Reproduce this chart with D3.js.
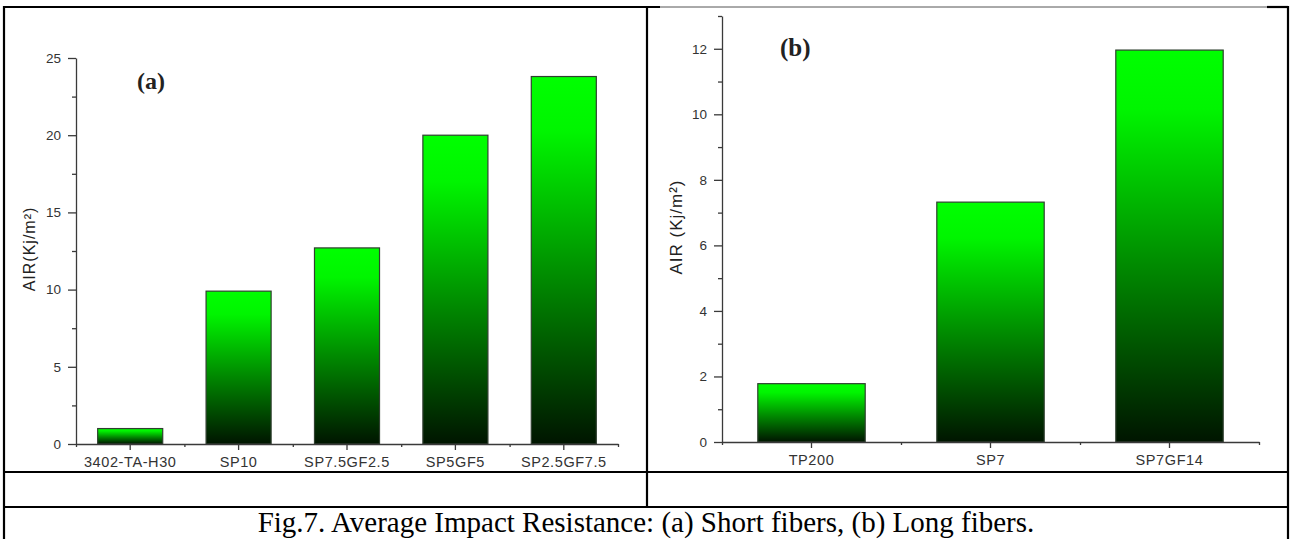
<!DOCTYPE html>
<html>
<head>
<meta charset="utf-8">
<script src="https://cdn.jsdelivr.net/npm/d3@7"></script>
<style>
  body { margin: 0; background: #fff; }
  svg { display: block; }
</style>
</head>
<body>
<div id="chart"></div>
<script>
// data (a) short fibers
var catsA = ['3402-TA-H30', 'SP10', 'SP7.5GF2.5', 'SP5GF5', 'SP2.5GF7.5'];
var valsA = [1.0, 9.9, 12.7, 20.0, 23.8];
var ticksA = [0, 5, 10, 15, 20, 25];
var minorA = [2.5, 7.5, 12.5, 17.5, 22.5];

// data (b) long fibers
var catsB = ['TP200', 'SP7', 'SP7GF14'];
var valsB = [1.78, 7.32, 11.96];
var ticksB = [0, 2, 4, 6, 8, 10, 12];
var minorB = [1, 3, 5, 7, 9, 11, 13];

var caption = 'Fig.7. Average Impact Resistance: (a) Short fibers, (b) Long fibers.';

var width = 1290;
var height = 539;

var svg = d3.select('#chart').append('svg')
    .attr('width', width)
    .attr('height', height);

// bar gradient, green on top fading to black
var grad = svg.append('defs').append('linearGradient')
    .attr('id', 'greenGrad')
    .attr('x1', 0).attr('y1', 0)
    .attr('x2', 0).attr('y2', 1);
grad.append('stop').attr('offset', '0%').attr('stop-color', '#00ff00');
grad.append('stop').attr('offset', '15%').attr('stop-color', '#00f500');
grad.append('stop').attr('offset', '55%').attr('stop-color', '#008a00');
grad.append('stop').attr('offset', '100%').attr('stop-color', '#001500');

var sans = 'Liberation Sans, Arial, sans-serif';
var serif = 'Liberation Serif, Times New Roman, serif';

function drawPanel(cfg) {
    var x = d3.scaleBand().domain(cfg.cats).range(cfg.xr)
        .paddingInner(0.4).paddingOuter(0.2);
    var y = d3.scaleLinear().domain(cfg.yd).range(cfg.yr);
    var g = svg.append('g');

    // bars
    g.selectAll('.bar')
        .data(cfg.vals)
        .enter().append('rect')
        .attr('x', function (d, i) { return x(cfg.cats[i]); })
        .attr('y', function (d) { return y(d); })
        .attr('width', x.bandwidth())
        .attr('height', function (d) { return y(0) - y(d); })
        .attr('fill', 'url(#greenGrad)')
        .attr('stroke', '#2f3f2f')
        .attr('stroke-width', 1.2);

    // y axis
    var yAxis = g.append('g')
        .attr('transform', 'translate(' + cfg.xr[0] + ',0)')
        .call(d3.axisLeft(y).tickValues(cfg.ticks).tickSize(8).tickPadding(7).tickSizeOuter(0));
    g.append('g')
        .attr('transform', 'translate(' + cfg.xr[0] + ',0)')
        .call(d3.axisLeft(y).tickValues(cfg.minor).tickSize(4).tickFormat(''))
        .select('.domain').remove();

    // x axis
    var xAxis = g.append('g')
        .attr('transform', 'translate(0,' + cfg.yr[0] + ')')
        .call(d3.axisBottom(x).tickSize(6).tickPadding(7).tickSizeOuter(0));
    var xb = d3.scaleLinear().domain([0, cfg.cats.length]).range(cfg.xr);
    g.append('g')
        .attr('transform', 'translate(0,' + cfg.yr[0] + ')')
        .call(d3.axisBottom(xb).ticks(cfg.cats.length).tickSize(3).tickFormat(''))
        .select('.domain').remove();

    g.selectAll('.domain, .tick line')
        .attr('stroke', '#3a3a3a')
        .attr('stroke-width', 1.3);
    yAxis.selectAll('.tick text')
        .attr('fill', '#333')
        .style('font-family', sans)
        .style('font-size', '13.5px');
    xAxis.selectAll('.tick text')
        .attr('fill', '#333')
        .style('font-family', sans)
        .style('font-size', '14.5px')
        .style('letter-spacing', '0.6px');

    // y label
    g.append('text')
        .attr('transform', 'translate(' + cfg.labelX + ',' + cfg.labelY + ') rotate(-90)')
        .attr('text-anchor', 'middle')
        .attr('fill', '#222')
        .style('font-family', sans)
        .style('font-size', cfg.labelSize + 'px')
        .style('letter-spacing', '1px')
        .text(cfg.ylabel);

    // panel tag
    g.append('text')
        .attr('x', cfg.tag[0])
        .attr('y', cfg.tag[1])
        .attr('fill', '#222')
        .style('font-family', serif)
        .style('font-weight', 'bold')
        .style('font-size', cfg.tagSize + 'px')
        .text(cfg.tagText);
}

// table borders
var lw = 2.2;
function line(x1, y1, x2, y2, color, w) {
    svg.append('line')
        .attr('x1', x1).attr('y1', y1)
        .attr('x2', x2).attr('y2', y2)
        .attr('stroke', color)
        .attr('stroke-width', w);
}
line(4, 7, 660, 7, '#000', lw);
line(660, 7, 1267, 7, '#555', 1);
line(1267, 7, 1288, 7, '#000', lw);
line(4, 6, 4, height, '#000', lw);
line(1288, 6, 1288, height, '#000', lw);
line(647, 6, 647, 507, '#000', lw);
line(4, 472, 1288, 472, '#000', lw);
line(4, 507, 1288, 507, '#000', lw);

drawPanel({
    cats: catsA, vals: valsA, ticks: ticksA, minor: minorA,
    xr: [76, 618], yd: [0, 25], yr: [444, 58],
    ylabel: 'AIR(Kj/m²)', labelX: 35, labelY: 249, labelSize: 16,
    tag: [137, 89], tagText: '(a)', tagSize: 24
});

drawPanel({
    cats: catsB, vals: valsB, ticks: ticksB, minor: minorB,
    xr: [722, 1259], yd: [0, 13], yr: [442, 16],
    ylabel: 'AIR (Kj/m²)', labelX: 682, labelY: 227, labelSize: 17,
    tag: [780, 56], tagText: '(b)', tagSize: 25
});

// caption
svg.append('text')
    .attr('x', 646)
    .attr('y', 532)
    .attr('text-anchor', 'middle')
    .attr('fill', '#000')
    .style('font-family', serif)
    .style('font-size', '29px')
    .text(caption);
</script>
</body>
</html>
